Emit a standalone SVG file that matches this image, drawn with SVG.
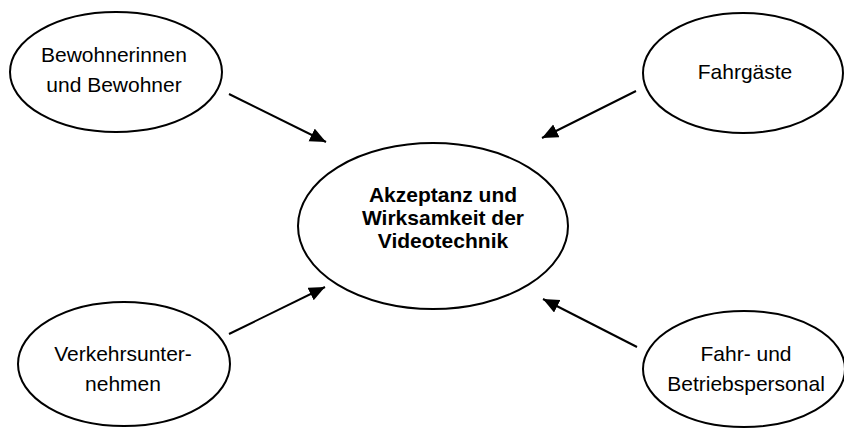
<svg xmlns="http://www.w3.org/2000/svg" width="844" height="428" viewBox="0 0 844 428">
<style>
.n{fill:#fff;stroke:#000;stroke-width:2}
.t{font-family:"Liberation Sans",Arial,sans-serif;font-size:21px;fill:#000;text-anchor:middle}
.b{font-weight:bold}
.c{stroke:#000;stroke-width:2;fill:none;marker-end:url(#ah)}
</style>
<defs>
<marker id="ah" markerUnits="userSpaceOnUse" markerWidth="18" markerHeight="16" refX="16" refY="7" orient="auto">
<path d="M0,0 L16,7 L0,14 Z" fill="#000"/>
</marker>
</defs>
<rect width="844" height="428" fill="#fff"/>
<g id="connectors">
<line class="c" x1="229" y1="94" x2="326" y2="142"/>
<line class="c" x1="636" y1="91" x2="542" y2="138"/>
<line class="c" x1="229" y1="334" x2="325" y2="287"/>
<line class="c" x1="637" y1="347" x2="543" y2="299"/>
</g>
<g id="center">
<ellipse class="n" cx="433" cy="226" rx="135" ry="83"/>
<text class="t b" x="443" y="202">Akzeptanz und</text>
<text class="t b" x="443" y="225">Wirksamkeit der</text>
<text class="t b" x="443" y="248">Videotechnik</text>
</g>
<g id="bewohner">
<ellipse class="n" cx="116" cy="72" rx="106" ry="60"/>
<text class="t" x="114" y="62">Bewohnerinnen</text>
<text class="t" x="114" y="92">und Bewohner</text>
</g>
<g id="fahrgaeste">
<ellipse class="n" cx="743" cy="73" rx="100" ry="60"/>
<text class="t" x="745" y="79">Fahrgäste</text>
</g>
<g id="verkehrsunternehmen">
<ellipse class="n" cx="124" cy="364" rx="106" ry="62"/>
<text class="t" x="123" y="361">Verkehrsunter-</text>
<text class="t" x="123" y="391">nehmen</text>
</g>
<g id="personal">
<ellipse class="n" cx="744" cy="369" rx="101" ry="58"/>
<text class="t" x="746" y="361">Fahr- und</text>
<text class="t" x="746" y="391">Betriebspersonal</text>
</g>
</svg>
